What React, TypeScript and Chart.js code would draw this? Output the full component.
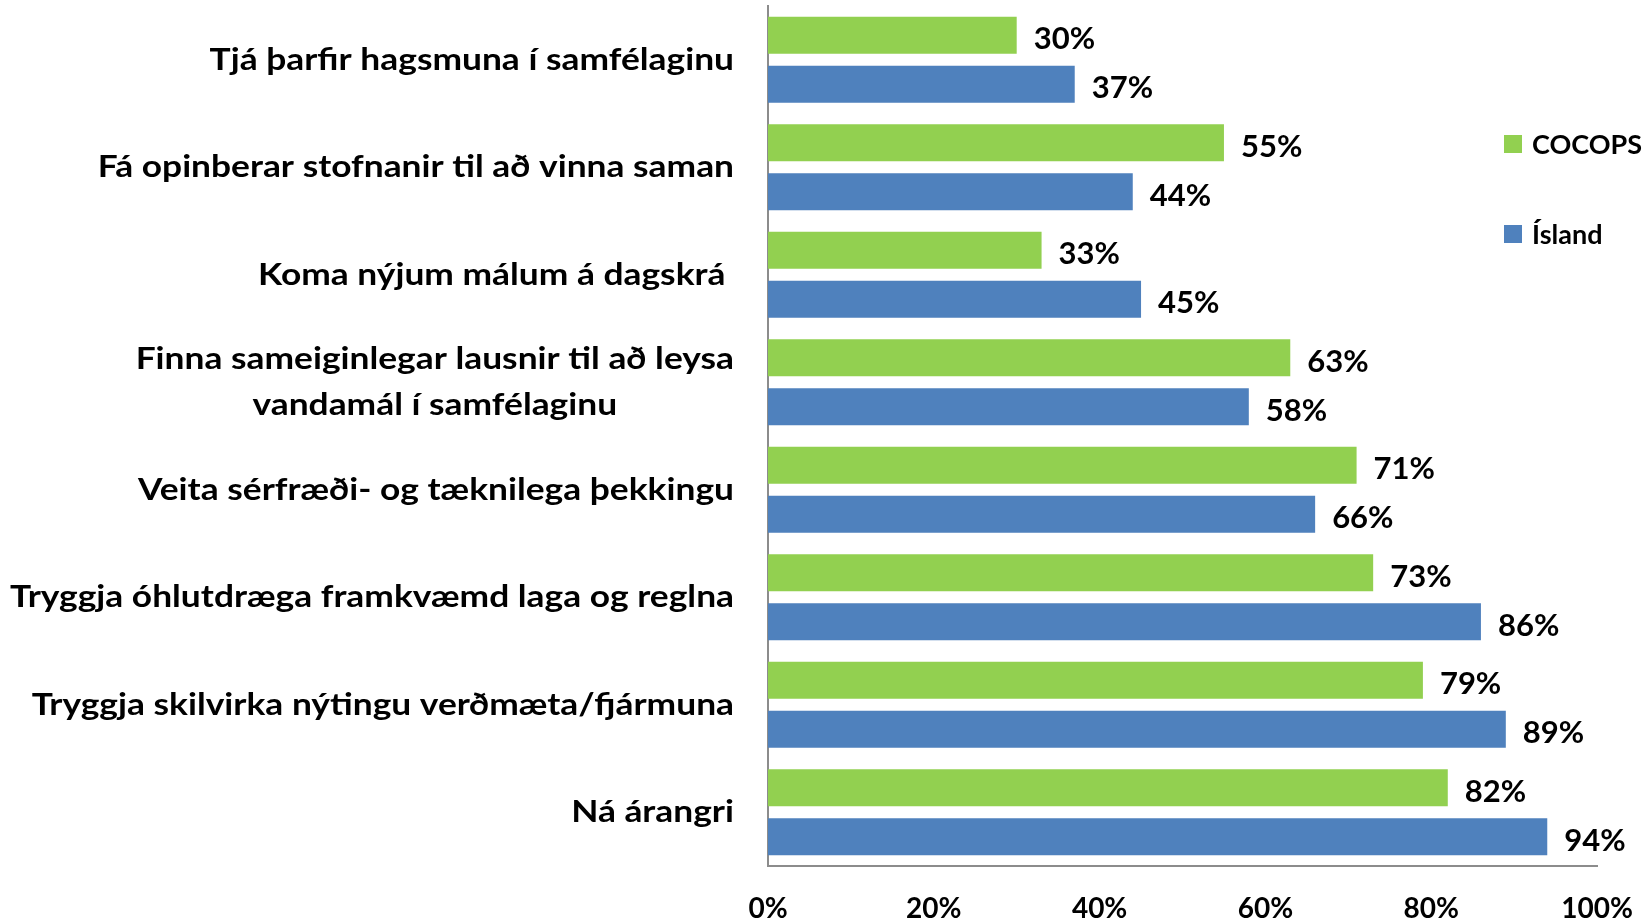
import React, { useEffect, useRef } from "react";
import { Chart, registerables } from "chart.js";

Chart.register(...registerables);

const categoryLines: string[][] = [
  ["Tjá þarfir hagsmuna í samfélaginu"],
  ["Fá opinberar stofnanir til að vinna saman"],
  ["Koma nýjum málum á dagskrá "],
  ["Finna sameiginlegar lausnir til að leysa", "vandamál í samfélaginu"],
  ["Veita sérfræði- og tæknilega þekkingu"],
  ["Tryggja óhlutdræga framkvæmd laga og reglna"],
  ["Tryggja skilvirka nýtingu verðmæta/fjármuna"],
  ["Ná árangri"],
];
const seriesNames = ["COCOPS", "Ísland"];
const cocopsValues = [30, 55, 33, 63, 71, 73, 79, 82];
const islandValues = [37, 44, 45, 58, 66, 86, 89, 94];
const xTickValues = [0, 20, 40, 60, 80, 100];

const GREEN = "#92D050";
const BLUE = "#4F81BD";
const AXIS = "#8C8C8C";
const FONT = "Lato";

const labelsPlugin = {
  id: "customLabels",
  afterDatasetsDraw(chart: any) {
    const ctx = chart.ctx;
    ctx.save();
    ctx.fillStyle = "#000";
    ctx.font = `bold 31px ${FONT}`;
    ctx.textAlign = "left";
    ctx.textBaseline = "middle";
    chart.data.datasets.forEach((ds: any, di: number) => {
      const meta = chart.getDatasetMeta(di);
      meta.data.forEach((el: any, i: number) => {
        ctx.fillText(`${ds.data[i]}%`, el.x + 17, el.y + 4);
      });
    });
    ctx.restore();
  },
  afterDraw(chart: any) {
    const ctx = chart.ctx;
    const yScale = chart.scales.y;
    const sx = 1.14;
    ctx.save();
    ctx.fillStyle = "#000";
    ctx.font = `bold 31px ${FONT}`;
    ctx.textBaseline = "middle";
    ctx.textAlign = "center";
    const right = 734;
    const lineH = 46;
    categoryLines.forEach((lines, i) => {
      const cy = yScale.getPixelForValue(i);
      const widths = lines.map((l) => ctx.measureText(l).width * sx);
      const blockW = Math.max(...widths);
      const startY = cy - ((lines.length - 1) * lineH) / 2;
      const cx = right - blockW / 2;
      lines.forEach((l, li) => {
        ctx.save();
        ctx.translate(cx, startY + li * lineH);
        ctx.scale(sx, 1);
        ctx.fillText(l, 0, 0);
        ctx.restore();
      });
    });
    // legend
    const colors = [GREEN, BLUE];
    const legendY = [144, 234];
    ctx.font = `bold 27px ${FONT}`;
    ctx.textAlign = "left";
    seriesNames.forEach((name, i) => {
      ctx.fillStyle = colors[i];
      ctx.fillRect(1504, legendY[i] - 9, 18, 18);
      ctx.fillStyle = "#000";
      ctx.fillText(name, 1532, legendY[i] + 1);
    });
    ctx.restore();
  },
};

export default function App() {
  const canvasRef = useRef<HTMLCanvasElement | null>(null);

  useEffect(() => {
    if (!canvasRef.current) return;
    const chart = new Chart(canvasRef.current, {
      type: "bar",
      data: {
        labels: categoryLines.map((l) => l.join(" ")),
        datasets: [
          {
            label: seriesNames[0],
            data: cocopsValues,
            backgroundColor: GREEN,
            categoryPercentage: 0.912,
            barPercentage: 0.755,
          },
          {
            label: seriesNames[1],
            data: islandValues,
            backgroundColor: BLUE,
            categoryPercentage: 0.912,
            barPercentage: 0.755,
          },
        ],
      },
      options: {
        indexAxis: "y",
        animation: false,
        responsive: true,
        maintainAspectRatio: false,
        layout: { padding: { left: 768, right: 53, top: 6, bottom: 0 } },
        plugins: {
          legend: { display: false },
          tooltip: { enabled: false },
        },
        scales: {
          x: {
            min: 0,
            max: 100,
            afterBuildTicks: (scale: any) => {
              scale.ticks = xTickValues.map((v) => ({ value: v }));
            },
            afterFit: (scale: any) => {
              scale.height = 56;
              scale.paddingLeft = 0;
              scale.paddingRight = 0;
            },
            grid: { display: false, drawTicks: false },
            border: { display: true, color: AXIS, width: 2 },
            ticks: {
              padding: 26,
              color: "#000",
              font: { family: FONT, weight: "bold", size: 28 },
              callback: (v: any) => `${v}%`,
            },
          },
          y: {
            type: "category",
            afterFit: (scale: any) => {
              scale.width = 0;
            },
            grid: { display: false, drawTicks: false },
            border: { display: true, color: AXIS, width: 2 },
            ticks: { display: false },
          },
        },
      },
      plugins: [labelsPlugin],
    } as any);
    return () => chart.destroy();
  }, []);

  return (
    <div style={{ position: "absolute", left: 0, top: 0, width: 1650, height: 922, background: "#fff" }}>
      <canvas ref={canvasRef} />
    </div>
  );
}
